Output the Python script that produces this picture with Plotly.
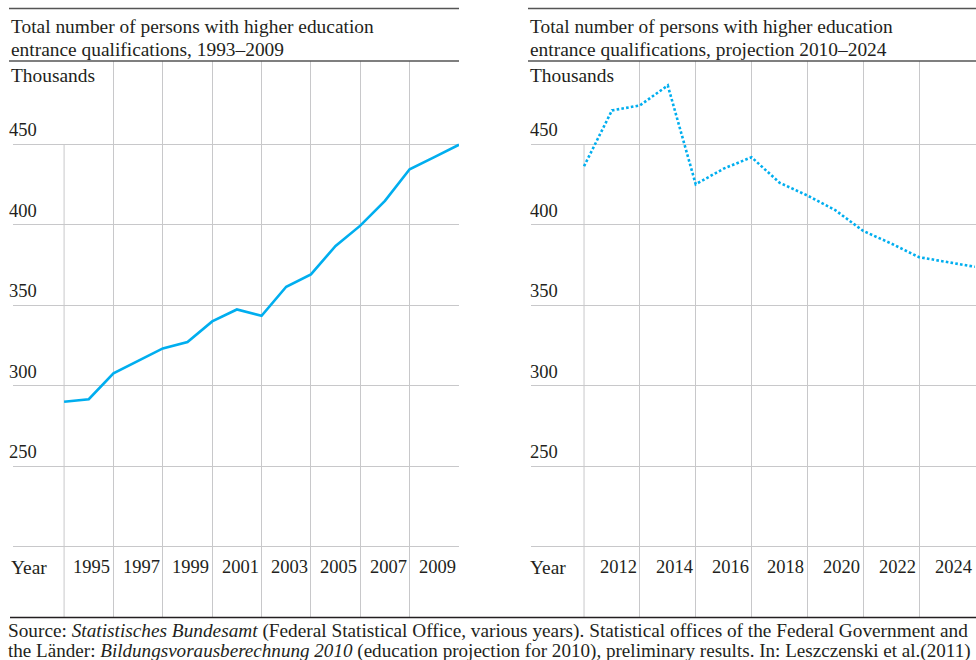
import plotly.graph_objects as go

# ---- data ----
years_hist = list(range(1993, 2010))
values_hist = [290.1, 291.6, 307.7, 315.6, 323.2, 327.2, 340.0, 347.4, 343.5,
               361.5, 369.2, 386.9, 399.5, 414.9, 434.5, 442.1, 449.8]

years_proj = list(range(2010, 2025))
values_proj = [436.4, 471.1, 474.2, 486.6, 425.2, 434.9, 442.0, 426.2, 418.2,
               409.1, 396.2, 388.4, 379.9, 377.0, 373.9]

y_grid_values = [200, 250, 300, 350, 400, 450]
y_tick_labels = ["250", "300", "350", "400", "450"]
y_tick_values = [250, 300, 350, 400, 450]

hist_grid_years = [1993, 1995, 1997, 1999, 2001, 2003, 2005, 2007]
hist_label_years = [1995, 1997, 1999, 2001, 2003, 2005, 2007, 2009]
proj_grid_years = [2010, 2012, 2014, 2016, 2018, 2020, 2022]
proj_label_years = [2012, 2014, 2016, 2018, 2020, 2022, 2024]

title_left = ["Total number of persons with higher education",
              "entrance qualifications, 1993–2009"]
title_right = ["Total number of persons with higher education",
               "entrance qualifications, projection 2010–2024"]
source_lines = [
    "Source: <i>Statistisches Bundesamt</i> (Federal Statistical Office, various years). "
    "Statistical offices of the Federal Government and",
    "the Länder: <i>Bildungsvorausberechnung 2010</i> (education projection for 2010), "
    "preliminary results. In: Leszczenski et al.(2011)",
]

# ---- styling / layout constants ----
OFF = 0                      # page body margin (removed via post_script)
W, H = 976 - OFF, 660 - OFF
FONT = "Liberation Serif, Times New Roman, serif"
TEXT = "#231f20"
LINE = "#00aeef"
GRID = "#c8c8ca"
RULE = "#555555"
Y_RANGE = [156.3, 501.8]
TXT = 19.4
SRC1 = 19.3
SRC2 = 19.1
NUM = 18.5


def px_x(p):
    return (p - OFF) / W


def px_y(p):
    return 1 - (p - OFF) / H


fig = go.Figure()
fig.add_trace(go.Scatter(x=years_hist, y=values_hist, mode="lines",
                         line=dict(color=LINE, width=2.6), xaxis="x", yaxis="y",
                         showlegend=False, hoverinfo="x+y"))
fig.add_trace(go.Scatter(x=years_proj, y=values_proj, mode="lines",
                         line=dict(color=LINE, width=2.6, dash="2.6px,2.2px"),
                         xaxis="x2", yaxis="y2", showlegend=False, hoverinfo="x+y"))

common_y = dict(range=Y_RANGE, tickvals=y_grid_values, showticklabels=False,
                showgrid=True, gridcolor=GRID, gridwidth=1, zeroline=False,
                showline=False, ticks="", fixedrange=True,
                domain=[px_y(617), px_y(61)])

fig.update_layout(
    width=W, height=H,
    margin=dict(l=0, r=0, t=0, b=0),
    paper_bgcolor="white", plot_bgcolor="white",
    font=dict(family=FONT, color=TEXT, size=TXT),
    xaxis=dict(domain=[px_x(13), px_x(459)], range=[1990.93, 2009],
               tickvals=hist_grid_years[1:], showticklabels=False, showgrid=True,
               gridcolor=GRID, gridwidth=1, zeroline=False, showline=False, ticks="",
               fixedrange=True),
    yaxis=dict(anchor="x", **common_y),
    xaxis2=dict(domain=[px_x(531), 1.0], range=[2008.10, 2024.04],
                tickvals=proj_grid_years[1:], showticklabels=False, showgrid=True,
                gridcolor=GRID, gridwidth=1, zeroline=False, showline=False, ticks="",
                fixedrange=True, anchor="y2"),
    yaxis2=dict(anchor="x2", **common_y),
)

shapes = []
# first vertical gridline of each panel starts at the top value line
shapes.append(dict(type="line", xref="x", yref="y", x0=hist_grid_years[0], x1=hist_grid_years[0],
                   y0=Y_RANGE[0], y1=y_grid_values[-1], line=dict(color=GRID, width=1), layer="below"))
shapes.append(dict(type="line", xref="x2", yref="y2", x0=proj_grid_years[0], x1=proj_grid_years[0],
                   y0=Y_RANGE[0], y1=y_grid_values[-1], line=dict(color=GRID, width=1), layer="below"))
# header rules
for x0, x1 in [(9, 459), (528, 976)]:
    for yy in (8.5, 61):
        shapes.append(dict(type="line", xref="paper", yref="paper",
                           x0=px_x(x0), x1=px_x(x1), y0=px_y(yy), y1=px_y(yy),
                           line=dict(color=RULE, width=1.6)))
# bottom rule
shapes.append(dict(type="line", xref="paper", yref="paper", x0=px_x(10), x1=1.0,
                   y0=px_y(617.5), y1=px_y(617.5), line=dict(color=TEXT, width=1.4)))
fig.update_layout(shapes=shapes)

ann = []


def text_ann(text, xp, yp, size=TXT, xanchor="left"):
    return dict(text=text, xref="paper", yref="paper", x=px_x(xp), y=px_y(yp),
                xanchor=xanchor, yanchor="middle", align="left", showarrow=False,
                font=dict(size=size))


# titles, unit label, "Year"
for xp, lines in [(9, title_left), (528, title_right)]:
    ann.append(text_ann(lines[0], xp, 26.5))
    ann.append(text_ann(lines[1], xp, 49.5))
    ann.append(text_ann("Thousands", xp, 75.5))
    ann.append(text_ann("Year", xp, 567))

# y tick labels (above their grid line)
for xp, yref in [(7, "y"), (528, "y2")]:
    for v, lab in zip(y_tick_values, y_tick_labels):
        ann.append(dict(text=lab, xref="paper", yref=yref, x=px_x(xp), y=v,
                        xanchor="left", yanchor="middle", yshift=14, showarrow=False,
                        font=dict(size=NUM)))

# year labels (right-aligned to their year)
for xref, years in [("x", hist_label_years), ("x2", proj_label_years)]:
    for yv in years:
        ann.append(dict(text=str(yv), xref=xref, yref="paper", x=yv, y=px_y(567),
                        xanchor="right", yanchor="middle", xshift=-1, showarrow=False,
                        font=dict(size=NUM)))

# source
ann.append(text_ann(source_lines[0], 6, 631, size=SRC1))
ann.append(text_ann(source_lines[1], 6, 651, size=SRC2))
fig.update_layout(annotations=ann)

fig.write_html("out.html",
               config={"displayModeBar": False},
               post_script="document.body.style.margin='0';document.body.style.overflow='hidden';")
